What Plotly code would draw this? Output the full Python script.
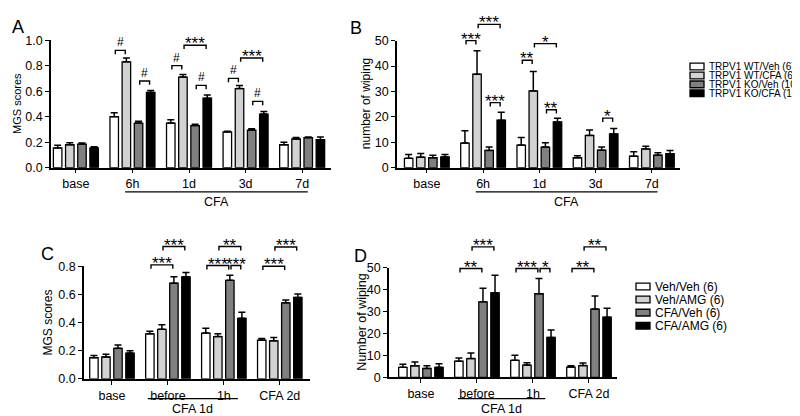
import plotly.graph_objects as go

W, H = 800, 416
FONT = "Liberation Sans"

# ---------------- data ----------------
series_AB = ["TRPV1 WT/Veh (6)", "TRPV1 WT/CFA (6)", "TRPV1 KO/Veh (10)", "TRPV1 KO/CFA (10)"]
series_CD = ["Veh/Veh (6)", "Veh/AMG (6)", "CFA/Veh (6)", "CFA/AMG (6)"]
bar_colors = ["#ffffff", "#d2d2d2", "#808080", "#000000"]

cats_AB = ["base", "6h", "1d", "3d", "7d"]
cats_CD = ["base", "before", "1h", "CFA 2d"]

# Panel A: MGS scores (mean, sem) per series
A_mean = [
    [0.155, 0.40, 0.35, 0.28, 0.18],
    [0.18, 0.83, 0.71, 0.62, 0.225],
    [0.185, 0.35, 0.33, 0.295, 0.235],
    [0.155, 0.59, 0.545, 0.42, 0.22],
]
A_sem = [
    [0.02, 0.03, 0.025, 0.005, 0.02],
    [0.015, 0.03, 0.02, 0.025, 0.012],
    [0.008, 0.015, 0.01, 0.01, 0.006],
    [0.01, 0.015, 0.025, 0.02, 0.02],
]
# Panel B: number of wiping
B_mean = [
    [3.7, 9.7, 8.9, 3.9, 4.5],
    [4.1, 36.8, 30.2, 12.7, 7.4],
    [3.9, 6.8, 8.1, 6.9, 4.9],
    [4.2, 18.7, 18.0, 13.3, 5.5],
]
B_sem = [
    [1.5, 4.8, 3.0, 0.8, 1.8],
    [1.5, 9.2, 7.6, 2.1, 1.0],
    [1.0, 1.3, 1.7, 1.2, 1.0],
    [1.0, 3.1, 1.5, 2.1, 1.3],
]
# Panel C: MGS scores
C_mean = [
    [0.15, 0.32, 0.325, 0.274],
    [0.155, 0.352, 0.30, 0.27],
    [0.217, 0.68, 0.70, 0.54],
    [0.183, 0.725, 0.43, 0.578],
]
C_sem = [
    [0.015, 0.018, 0.035, 0.012],
    [0.02, 0.032, 0.02, 0.023],
    [0.023, 0.045, 0.036, 0.02],
    [0.017, 0.03, 0.043, 0.025],
]
# Panel D: Number of wiping
D_mean = [
    [4.6, 7.4, 7.8, 4.7],
    [5.3, 8.6, 5.6, 5.4],
    [4.1, 34.5, 38.2, 31.2],
    [4.6, 38.6, 18.2, 27.5],
]
D_sem = [
    [1.4, 1.5, 2.3, 0.6],
    [1.7, 2.5, 1.1, 1.2],
    [1.2, 6.2, 6.9, 6.0],
    [1.6, 8.0, 3.4, 4.1],
]

# significance brackets: (group index, series i, series j, level, label)
A_sig = [(1, 0, 1, 0.92, "#"), (1, 2, 3, 0.68, "#"),
         (2, 0, 1, 0.80, "#"), (2, 1, 3, 0.96, "***"), (2, 2, 3, 0.645, "#"),
         (3, 0, 1, 0.70, "#"), (3, 1, 3, 0.86, "***"), (3, 2, 3, 0.52, "#")]
B_sig = [(1, 0, 1, 50.0, "***"), (1, 1, 3, 56.4, "***"), (1, 2, 3, 25.6, "***"),
         (2, 0, 1, 42.3, "**"), (2, 1, 3, 48.8, "*"), (2, 2, 3, 22.8, "**"),
         (3, 2, 3, 19.5, "*")]
C_sig = [(1, 0, 2, 0.81, "***"), (1, 1, 3, 0.94, "***"),
         (2, 0, 2, 0.805, "***"), (2, 2, 3, 0.805, "***"), (2, 1, 3, 0.94, "**"),
         (3, 0, 2, 0.80, "***"), (3, 1, 3, 0.937, "***")]
D_sig = [(1, 0, 2, 49.7, "**"), (1, 1, 3, 59.6, "***"),
         (2, 0, 2, 49.7, "***"), (2, 2, 3, 49.7, "*"),
         (3, 0, 2, 49.7, "**"), (3, 1, 3, 59.6, "**")]

# ---------------- layout geometry (pixels) ----------------
BARGAP = 0.14
BARGROUPGAP = 0.30
SLOT = (1 - BARGAP) / 4

panels = [
    dict(ax="", cats=cats_AB, mean=A_mean, sem=A_sem, sig=A_sig, xpx=(43, 323), ypx=(158, 26),
         yr=(0, 1.0), dtick=0.2, fmt=".1f", letter="A", lpos=(10, 12), title="MGS scores", tx=9,
         tsize=11, xr=(-0.44, 4.51), ul=(0.87, 4.1), ul_y=183, ul_text="CFA", ul_ty=194,
         names=series_AB),
    dict(ax="2", cats=cats_AB, mean=B_mean, sem=B_sem, sig=B_sig, xpx=(389, 672), ypx=(158, 26.5),
         yr=(0, 50), dtick=10, fmt="d", letter="B", lpos=(348, 13), title="number of wiping", tx=358,
         tsize=12, xr=(-0.53, 4.5), ul=(0.87, 4.1), ul_y=183, ul_text="CFA", ul_ty=194,
         names=series_AB),
    dict(ax="3", cats=cats_CD, mean=C_mean, sem=C_sem, sig=C_sig, xpx=(76, 302), ypx=(376.5, 260),
         yr=(0, 0.8), dtick=0.2, fmt=".1f", letter="C", lpos=(39, 247), title="MGS scores", tx=40,
         tsize=12, xr=(-0.5, 3.54), ul=(0.64, 2.25), ul_y=397, ul_text="CFA 1d", ul_ty=407.5,
         names=series_CD),
    dict(ax="4", cats=cats_CD, mean=D_mean, sem=D_sem, sig=D_sig, xpx=(381, 609), ypx=(375, 261.7),
         yr=(0, 50), dtick=10, fmt="d", letter="D", lpos=(352, 249), title="Number of wiping", tx=354,
         tsize=12.5, xr=(-0.57, 3.5), ul=(0.66, 2.22), ul_y=397, ul_text="CFA 1d", ul_ty=407.5,
         names=series_CD),
]

fig = go.Figure()
shapes = []
annotations = []
layout_axes = {}

TICKFONT = dict(family=FONT, size=12.5, color="black")

for p in panels:
    xa = "x" + p["ax"]
    ya = "y" + p["ax"]
    for s in range(4):
        fig.add_trace(go.Bar(
            x=p["cats"], y=p["mean"][s], name=p["names"][s],
            xaxis=xa, yaxis=ya, showlegend=False,
            offsetgroup=str(s), alignmentgroup=p["ax"] or "1",
            marker=dict(color=bar_colors[s], line=dict(color="black", width=1.3)),
            error_y=dict(type="data", symmetric=False, array=p["sem"][s],
                         arrayminus=[0] * len(p["sem"][s]),
                         color="black", thickness=1.5, width=3.5),
        ))
    xl, xr_ = p["xpx"]
    yb, yt = p["ypx"]
    plot_h = yb - yt
    layout_axes["xaxis" + p["ax"]] = dict(
        domain=[xl / W, xr_ / W], anchor=ya, range=list(p["xr"]), type="category",
        showline=True, linecolor="black", linewidth=1.5, ticks="outside", ticklen=4,
        tickwidth=1.3, tickcolor="black", tickfont=TICKFONT, showgrid=False, zeroline=False,
        fixedrange=True,
    )
    layout_axes["yaxis" + p["ax"]] = dict(
        domain=[1 - yb / H, 1 - yt / H], anchor=xa, range=list(p["yr"]), dtick=p["dtick"],
        tick0=0, tickformat=p["fmt"], showline=True, linecolor="black", linewidth=1.5,
        ticks="outside", ticklen=4, tickwidth=1.3, tickcolor="black", tickfont=TICKFONT,
        showgrid=False, zeroline=False, fixedrange=True,
    )
    ymax = p["yr"][1]
    tick_frac = 4.0 / plot_h
    yd = ya + " domain"
    for (g, i, j, lvl, lab) in p["sig"]:
        x1 = g + (i - 1.5) * SLOT + 0.02
        x2 = g + (j - 1.5) * SLOT - 0.02
        f = lvl / ymax
        shapes.append(dict(type="path", xref=xa, yref=yd,
                           path=f"M {x1} {f - tick_frac} L {x1} {f} L {x2} {f} L {x2} {f - tick_frac}",
                           line=dict(color="black", width=1.4)))
        if lab == "#":
            annotations.append(dict(x=(x1 + x2) / 2, y=f, xref=xa, yref=yd, text=lab,
                                    showarrow=False, yanchor="bottom", yshift=-1,
                                    font=dict(family=FONT, size=12, color="black")))
        else:
            annotations.append(dict(x=(x1 + x2) / 2, y=f, xref=xa, yref=yd, text=lab,
                                    showarrow=False, yanchor="bottom", yshift=-10,
                                    font=dict(family=FONT, size=17, color="black")))
    # underline for treatment period
    shapes.append(dict(type="line", xref=xa, yref="paper", x0=p["ul"][0], x1=p["ul"][1],
                       y0=1 - p["ul_y"] / H, y1=1 - p["ul_y"] / H,
                       line=dict(color="black", width=1.4)))
    annotations.append(dict(x=(p["ul"][0] + p["ul"][1]) / 2, xref=xa, y=1 - p["ul_ty"] / H,
                            yref="paper", text=p["ul_text"], showarrow=False, borderpad=0,
                            yanchor="middle", font=dict(family=FONT, size=12.5, color="black")))
    # panel letter
    annotations.append(dict(x=p["lpos"][0] / W, y=1 - p["lpos"][1] / H, xref="paper", yref="paper",
                            text=p["letter"], showarrow=False, xanchor="center", yanchor="middle",
                            font=dict(family=FONT, size=18, color="black")))
    # y title
    annotations.append(dict(x=p["tx"] / W, y=1 - (yb + yt) / 2 / H, xref="paper", yref="paper",
                            text=p["title"], showarrow=False, textangle=-90,
                            xanchor="center", yanchor="middle",
                            font=dict(family=FONT, size=p["tsize"], color="black")))

# manual legends
legends = [
    dict(names=series_AB, box_x=682, text_x=700, rows=[53.3, 62.6, 71.8, 81.0], size=10),
    dict(names=series_CD, box_x=628, text_x=646, rows=[281, 294.5, 308, 321.5], size=12),
]
for lg in legends:
    for k, nm in enumerate(lg["names"]):
        yc = lg["rows"][k]
        shapes.append(dict(type="rect", xref="paper", yref="paper",
                           x0=lg["box_x"] / W, x1=(lg["box_x"] + 14) / W,
                           y0=1 - (yc + 3.5) / H, y1=1 - (yc - 3.5) / H,
                           fillcolor=bar_colors[k], line=dict(color="black", width=1.3)))
        annotations.append(dict(x=lg["text_x"] / W, y=1 - yc / H, xref="paper", yref="paper",
                                text=nm, showarrow=False, xanchor="left", yanchor="middle",
                                borderpad=0,
                                font=dict(family=FONT, size=lg["size"], color="black")))

fig.update_layout(
    width=W, height=H, margin=dict(l=0, r=0, t=0, b=0),
    paper_bgcolor="white", plot_bgcolor="white",
    barmode="group", bargap=BARGAP, bargroupgap=BARGROUPGAP,
    shapes=shapes, annotations=annotations, showlegend=False,
    font=dict(family=FONT, color="black"),
    **layout_axes,
)

fig.write_html("out.html", config={"displayModeBar": False})
